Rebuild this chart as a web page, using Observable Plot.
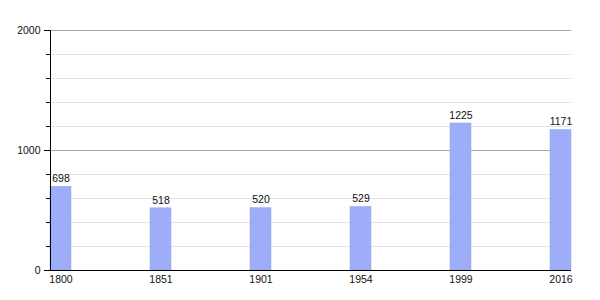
<!DOCTYPE html>
<html>
<head>
<meta charset="utf-8">
<script src="https://cdn.jsdelivr.net/npm/d3@7"></script>
<script src="https://cdn.jsdelivr.net/npm/@observablehq/plot@0.6"></script>
<style>
  html, body { margin: 0; padding: 0; background: #fff; }
  #chart svg { display: block; font-family: "Liberation Sans", Arial, sans-serif; }
</style>
</head>
<body>
<div id="chart"></div>
<script>
const years = ["1800", "1851", "1901", "1954", "1999", "2016"];
const population = [698, 518, 520, 529, 1225, 1171];
const majorTicks = [0, 1000, 2000];
const minorTicks = [200, 400, 600, 800, 1200, 1400, 1600, 1800];

const data = years.map((y, i) => ({year: y, value: population[i]}));

const chart = Plot.plot({
  width: 600,
  height: 300,
  marginTop: 30,
  marginBottom: 30,
  marginLeft: 50,
  marginRight: 29,
  style: {fontSize: "10.5px", fontFamily: "'Liberation Sans', Arial, sans-serif", color: "#000", background: "#fff"},
  x: {type: "band", domain: years, paddingInner: 0.79, paddingOuter: 0, align: 0, label: null},
  y: {domain: [0, 2000], label: null},
  marks: [
    Plot.ruleY(minorTicks, {stroke: "#e3e3e3", strokeWidth: 1}),
    Plot.ruleY([1000, 2000], {stroke: "#a8a8a8", strokeWidth: 1}),
    Plot.barY(data, {x: "year", y: "value", fill: "#9dadf7", stroke: "#93a4f0", strokeWidth: 0.5}),
    Plot.text(data, {x: "year", y: "value", text: d => String(d.value), dy: -8, fill: "#111", fontSize: 10.5}),
    Plot.axisY(majorTicks, {tickSize: 6, tickPadding: 4, tickFormat: d => String(d), fontSize: 10.5, fill: "#111"}),
    Plot.axisY(minorTicks, {tickSize: 4, tickFormat: () => ""}),
    Plot.axisX({tickSize: 0, tickPadding: 5, fontSize: 10.5, fill: "#111"}),
    Plot.ruleY([0], {stroke: "#000", strokeWidth: 1}),
    Plot.frame({anchor: "left", stroke: "#000"})
  ]
});
document.getElementById("chart").appendChild(chart);
</script>
</body>
</html>
